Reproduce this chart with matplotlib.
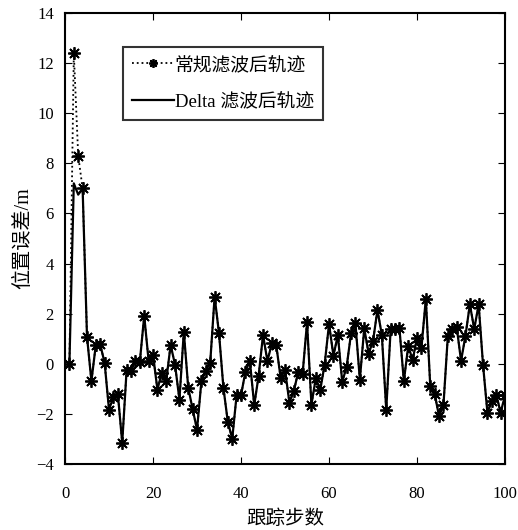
import numpy as np
import matplotlib.pyplot as plt

plt.rcParams['font.family'] = ['Liberation Serif', 'Noto Sans CJK SC']
plt.rcParams['axes.unicode_minus'] = True

steps = np.arange(1, 101)
common = [1.08, -0.69, 0.75, 0.77, 0.04, -1.83, -1.32, -1.19, -3.15, -0.25,
          -0.29, 0.12, 0.08, 1.91, 0.12, 0.37, -1.03, -0.35, -0.68, 0.75,
          -0.03, -1.43, 1.28, -0.95, -1.81, -2.63, -0.69, -0.29, 0.05, 2.68,
          1.21, -0.96, -2.32, -2.99, -1.25, -1.25, -0.32, 0.12, -1.65, -0.48,
          1.15, 0.11, 0.81, 0.75, -0.56, -0.25, -1.55, -1.09, -0.32, -0.39,
          1.65, -1.63, -0.56, -1.05, -0.03, 1.59, 0.32, 1.15, -0.72, -0.12,
          1.21, 1.61, -0.63, 1.41, 0.41, 0.91, 2.15, 1.15, -1.83, 1.37,
          1.37, 1.41, -0.69, 0.71, 0.15, 1.04, 0.64, 2.59, -0.88, -1.19,
          -2.09, -1.65, 1.11, 1.37, 1.48, 0.12, 1.11, 2.37, 1.39, 2.37,
          -0.05, -1.96, -1.49, -1.23, -1.95, -1.25]
normal_err = [0.0, 12.4, 8.3, 7.0] + common
delta_err = [0.0, 7.2, 6.75, 7.0] + common

fig = plt.figure(figsize=(5.18, 5.30), dpi=100)
ax = fig.add_axes([0.1255, 0.1245, 0.8495, 0.851])

# MATLAB-style asterisk marker (8 spokes)
ax.plot(steps, normal_err, color='black', linestyle=':', linewidth=1.3,
        marker=(8, 2, 0), markersize=9, markeredgewidth=1.3, label='常规滤波后轨迹')
ax.plot(steps, delta_err, color='black', linestyle='-', linewidth=1.6,
        label='Delta 滤波后轨迹')

ax.set_xlim(0, 100)
ax.set_ylim(-4, 14)
ax.set_xticks(np.arange(0, 101, 20))
ax.set_yticks(np.arange(-4, 15, 2))
ax.tick_params(direction='in', top=True, right=True, labelsize=12, length=5)
ax.tick_params(axis='x', pad=16)
ax.tick_params(axis='y', pad=8)
for s in ax.spines.values():
    s.set_linewidth(1.5)

ax.set_xlabel('跟踪步数', fontsize=14, labelpad=5)
ax.set_ylabel('位置误差/m', fontsize=14.5, labelpad=2)

leg = ax.legend(loc='upper left', bbox_to_anchor=(0.132, 0.925), fontsize=13.5,
                frameon=True, fancybox=False, edgecolor='black', handlelength=2.2,
                handletextpad=0.05, borderpad=0.5, labelspacing=1.0, borderaxespad=0,
                markerscale=0.7)
leg.get_frame().set_linewidth(1.5)

fig.savefig('out.png', dpi=100)
